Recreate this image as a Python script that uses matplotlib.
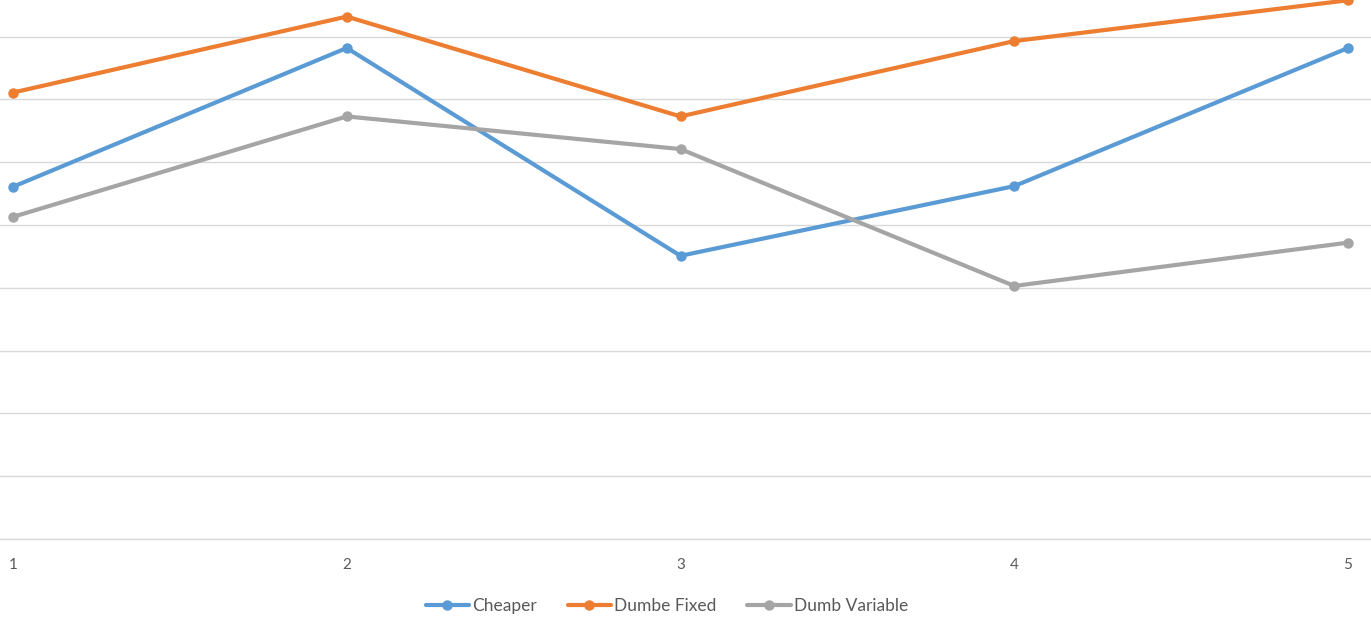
import matplotlib
matplotlib.use("Agg")
import matplotlib.pyplot as plt

# Data
categories = [1, 2, 3, 4, 5]
cheaper = [5.61, 7.82, 4.51, 5.62, 7.82]
dumbe_fixed = [7.11, 8.32, 6.73, 7.93, 8.58]
dumb_variable = [5.13, 6.73, 6.21, 4.03, 4.72]
series_names = ["Cheaper", "Dumbe Fixed", "Dumb Variable"]
series_colors = ["#5B9BD5", "#ED7D31", "#A5A5A5"]

plt.rcParams["font.family"] = ["Lato", "DejaVu Sans"]

fig = plt.figure(figsize=(13.71, 6.19), dpi=100)
ax = fig.add_axes([0.0, 80 / 619, 1.0, 539 / 619])

for vals, name, col in zip([cheaper, dumbe_fixed, dumb_variable], series_names, series_colors):
    ax.plot(categories, vals, color=col, lw=3.0, marker="o", markersize=6.5,
            label=name, solid_capstyle="round", clip_on=False, zorder=3)

ax.set_xlim(1 - 13 / 333.75, 5 + 23 / 333.75)
ax.set_ylim(0, 539 / 62.79)
ax.set_yticks(range(0, 9))
ax.yaxis.grid(True, color="#D9D9D9", lw=1.0)
ax.set_axisbelow(True)
ax.tick_params(axis="y", left=False, labelleft=False)
ax.tick_params(axis="x", bottom=False, labelsize=11, labelcolor="#595959", pad=10)
ax.set_xticks(categories)
ax.set_xticklabels([str(c) for c in categories])
for side in ["left", "right", "top"]:
    ax.spines[side].set_visible(False)
ax.spines["bottom"].set_color("#D9D9D9")
ax.spines["bottom"].set_linewidth(1.0)

leg = fig.legend(loc="center", bbox_to_anchor=(667 / 1371, 1 - 606 / 619), ncol=3,
                 frameon=False, fontsize=12.5, handlelength=2.5, handletextpad=0.2,
                 columnspacing=1.75)
for t in leg.get_texts():
    t.set_color("#595959")

fig.savefig("out.png", dpi=100)
